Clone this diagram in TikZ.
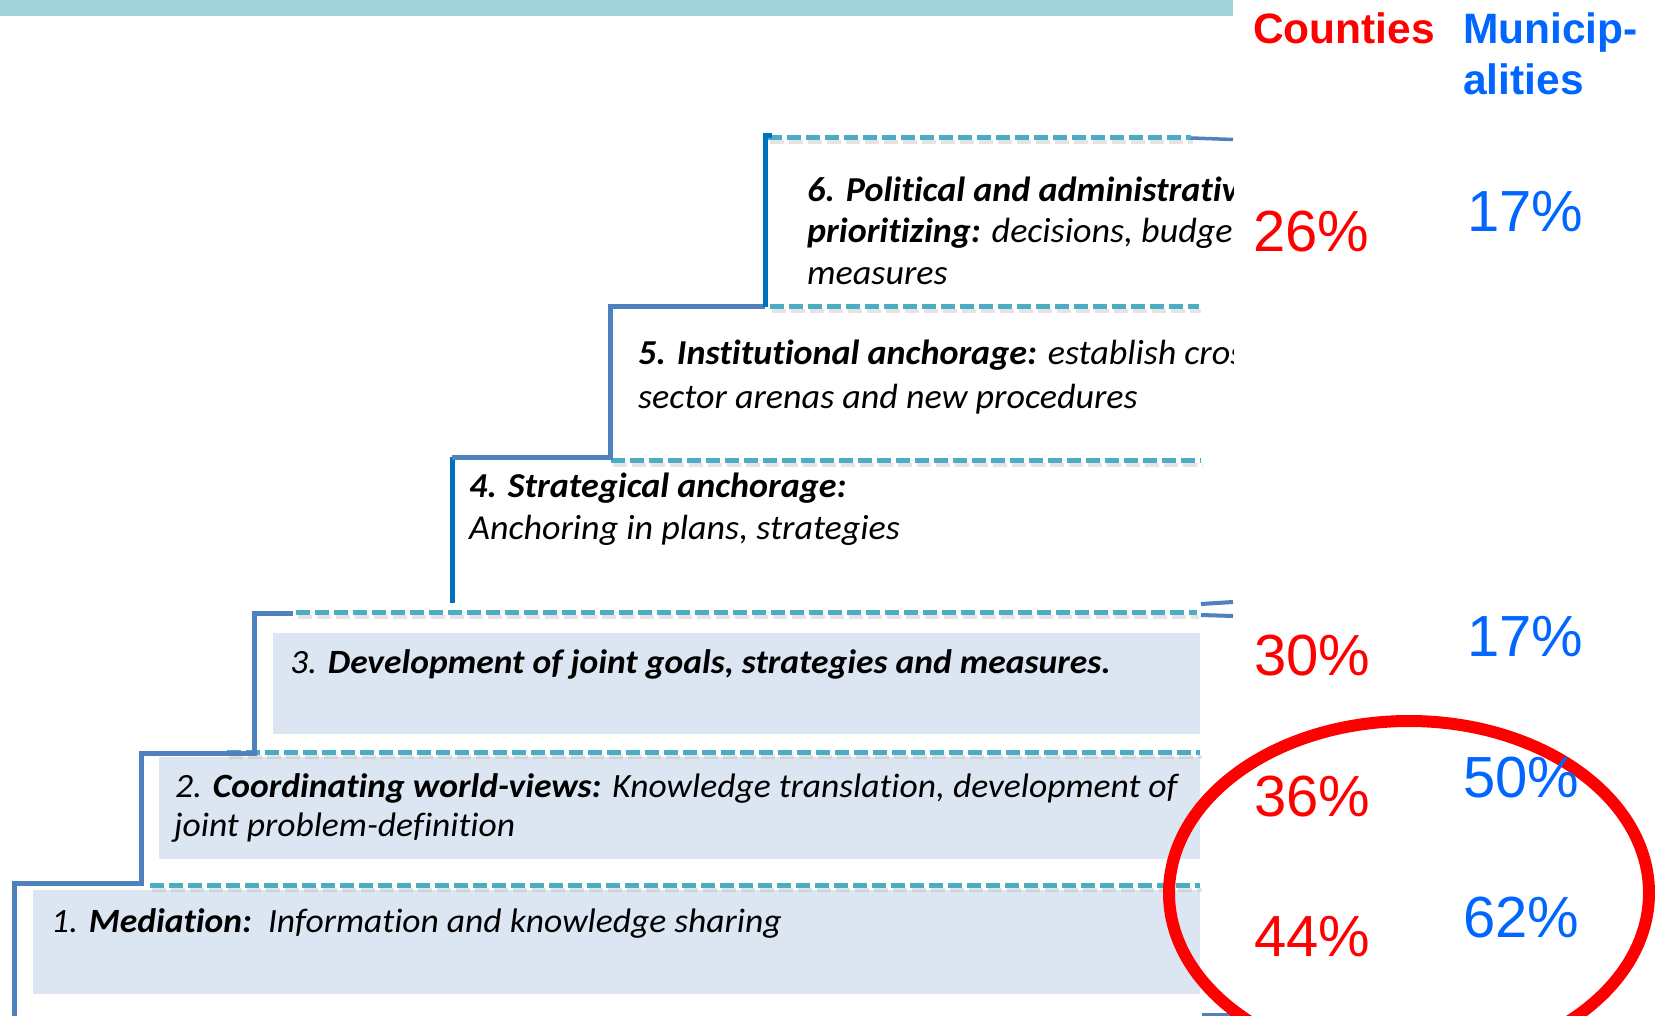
\documentclass[tikz,border=0pt]{standalone}
\usepackage{fontspec}
\setmainfont{Carlito}
\newfontfamily\arialf{Liberation Sans}
\newfontfamily\stepf[FakeStretch=1.045,Ligatures=NoCommon]{Carlito}
\newfontfamily\condf[FakeStretch=1.03,Ligatures=NoCommon]{Carlito}
\definecolor{stair}{RGB}{79,129,189}
\definecolor{stairdark}{RGB}{0,112,192}
\definecolor{dashteal}{RGB}{75,172,198}
\definecolor{boxfill}{RGB}{220,230,242}
\definecolor{topbar}{RGB}{160,212,216}
\definecolor{cred}{RGB}{255,0,0}
\definecolor{cblue}{RGB}{0,102,255}
\begin{document}
\begin{tikzpicture}[x=1pt,y=-1pt,
  stairline/.style={draw=stair, line width=5pt, line join=miter},
  stairdk/.style={draw=stairdark, line width=5pt, line join=miter},
  dashline/.style={draw=dashteal, line width=5pt, dash pattern=on 14pt off 5pt},
  dashshadow/.style={draw=black!30, line width=4pt, dash pattern=on 14pt off 5pt, opacity=0.35},
  stepbox/.style={fill=boxfill, draw=none},
  steptext/.style={anchor=base west, inner sep=0pt, font=\stepf\fontsize{34}{41}\selectfont\itshape},
  condtext/.style={anchor=base west, inner sep=0pt, font=\condf\fontsize{35}{42}\selectfont\itshape},
  pct/.style={anchor=base west, inner sep=0pt, font=\arialf\fontsize{58}{70}\selectfont},
  head/.style={anchor=base west, inner sep=0pt, font=\arialf\bfseries\fontsize{42.5}{51}\selectfont}
]
\useasboundingbox (0,0) rectangle (1655,1016);
\fill[white] (0,0) rectangle (1655,1016);
% top bar
\fill[topbar] (0,0) rectangle (1233,16);
% boxes
\fill[stepbox] (33,890) rectangle (1200,994);
\fill[stepbox] (159,757) rectangle (1200,859);
\fill[stepbox] (273,633) rectangle (1200,734);
% dashed shadows
\foreach \xa/\xb/\yy in {150/1200/885, 227/1200/752, 296/1197/612, 611/1201/460, 770/1199/307, 768/1191/138}{
  \draw[dashshadow] (\xa+1.5,\yy+4.5) -- (\xb+1.5,\yy+4.5);
}
\foreach \xa/\xb/\yy in {150/1200/885, 227/1200/752, 296/1197/612, 611/1201/460, 770/1199/307, 768/1191/138}{
  \draw[dashline] (\xa,\yy) -- (\xb,\yy);
}
% staircase
\coordinate (b0) at (14,1016);
\coordinate (b1) at (14,883);
\coordinate (b2) at (141,883);
\coordinate (b3) at (141,753);
\coordinate (b4) at (254,753);
\coordinate (b5) at (254,613);
\coordinate (b6) at (293,613);
\draw[stairline] (b0) -- (b1) -- (b2) -- (b3) -- (b4) -- (b5) -- (b6);
\coordinate (c0) at (452,603);
\coordinate (c1) at (452,457);
\coordinate (c2) at (610,457);
\coordinate (c3) at (610,307);
\coordinate (c4) at (765,307);
\coordinate (c5) at (765,136);
\coordinate (c6) at (772,136);
\draw[stairdk] (c0) -- (c1);
\draw[stairline] (c1) -- (c2) -- (c3) -- (c4);
\draw[stairdk] (c4) -- (c5) -- (c6);
% right-end pieces
\coordinate (r1a) at (1191,138);
\coordinate (r1b) at (1233,139.5);
\draw[stairline, line width=3.5pt] (r1a) -- (r1b);
\coordinate (r2a) at (1201,604);
\coordinate (r2b) at (1233,602);
\coordinate (r3a) at (1201,615);
\coordinate (r3b) at (1233,616);
\draw[stairline, line width=4pt] (r2a) -- (r2b);
\draw[stairline, line width=4pt] (r3a) -- (r3b);
\coordinate (r4a) at (1202,1014);
\coordinate (r4b) at (1233,1014);
\draw[stairline, line width=3pt] (r4a) -- (r4b);
% step texts
\node[steptext] (s1) at (51,932) {1. \textbf{Mediation:}\ \ Information and knowledge sharing};
\node[steptext] (s2a) at (175,797) {2. \textbf{Coordinating world-views:} Knowledge translation, development of};
\node[steptext] (s2b) at (174,836) {joint problem-definition};
\node[steptext] (s3) at (290,673) {3. \textbf{Development of joint goals, strategies and measures.}};
\begin{scope}
\clip (0,0) rectangle (1233,1016);
\node[condtext] (s4a) at (469,497) {\textbf{4. Strategical anchorage:}};
\node[condtext] (s4b) at (469,539) {Anchoring in plans, strategies};
\node[condtext] (s5a) at (638,365) {\textbf{5. Institutional anchorage:} establish cros};
\node[condtext] (s5b) at (638,408) {sector arenas and new procedures};
\node[condtext] (s6a) at (807,202) {\textbf{6. Political and administrativ}};
\node[condtext] (s6b) at (807,243) {\textbf{prioritizing:} decisions, budget};
\node[condtext] (s6c) at (807,285) {measures};
\end{scope}
% ellipse
\draw[cred, line width=12pt] (1409,893) ellipse [x radius=240, y radius=172];
% headers
\node[head, text=cred] (hc) at (1253,44) {Counties};
\node[head, text=cblue] (hm1) at (1463,44) {Municip-};
\node[head, text=cblue] (hm2) at (1463,95) {alities};
% percentages
\node[pct, text=cred] (p6c) at (1253,252) {26\%};
\node[pct, text=cblue] (p6m) at (1467,232) {17\%};
\node[pct, text=cred] (p3c) at (1254,675) {30\%};
\node[pct, text=cblue] (p3m) at (1467,656) {17\%};
\node[pct, text=cred] (p2c) at (1254,816) {36\%};
\node[pct, text=cblue] (p2m) at (1463,797) {50\%};
\node[pct, text=cred] (p1c) at (1254,956) {44\%};
\node[pct, text=cblue] (p1m) at (1463,937) {62\%};
\end{tikzpicture}
\end{document}
